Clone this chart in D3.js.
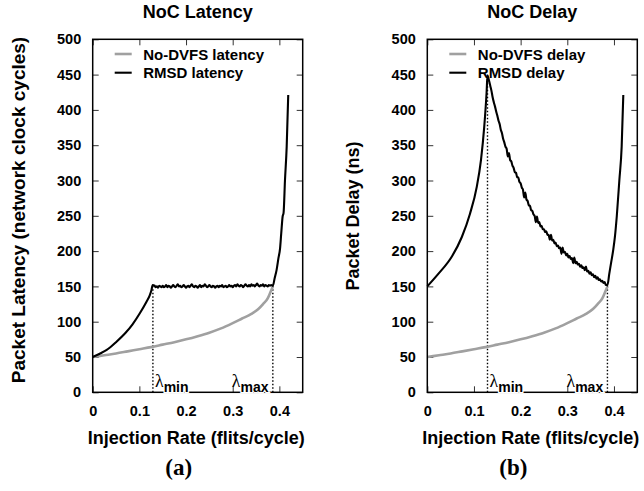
<!DOCTYPE html>
<html>
<head>
<meta charset="utf-8">
<script src="https://cdn.jsdelivr.net/npm/d3@7"></script>
<style>
  body { margin: 0; background: #fff; }
  svg { display: block; }
</style>
</head>
<body>
<div id="chart"></div>
<script>
// tick values
const rateTicks = [0, 0.1, 0.2, 0.3, 0.4];
const valueTicks = [0, 50, 100, 150, 200, 250, 300, 350, 400, 450, 500];

// injection rates marking the DVFS range
const lambdaMin = 0.129;
const lambdaMax = 0.386;

// [injection rate, latency in cycles]
const noDvfsLatency = [
  [0, 50], [0.025, 52.5], [0.05, 55], [0.075, 58], [0.1, 61], [0.125, 64], [0.15, 67.5],
  [0.175, 71], [0.2, 75], [0.225, 79.5], [0.25, 84.5], [0.275, 90.5], [0.3, 98], [0.32, 104.5],
  [0.34, 111], [0.355, 118], [0.365, 125], [0.375, 133], [0.381, 142], [0.386, 150]
];

const rmsdLatency = [
  [0, 50], [0.016, 55], [0.03, 60], [0.051, 71.7], [0.07, 84], [0.085, 96], [0.101, 112],
  [0.115, 128], [0.122, 137], [0.126, 145], [0.1285, 152],
  [0.1325, 151], [0.135, 149], [0.1375, 150], [0.14, 148], [0.1425, 151], [0.145, 150], [0.1475, 149],
  [0.15, 151], [0.1525, 149], [0.155, 150], [0.1575, 152], [0.16, 149], [0.1625, 151], [0.165, 150],
  [0.1675, 148], [0.17, 150], [0.1725, 152], [0.175, 150], [0.1775, 149], [0.18, 151], [0.1825, 153],
  [0.185, 150], [0.1875, 151], [0.19, 149], [0.1925, 150], [0.195, 152], [0.1975, 150], [0.2, 148],
  [0.2025, 150], [0.205, 151], [0.2075, 149], [0.21, 151], [0.2125, 153], [0.215, 150], [0.2175, 149],
  [0.22, 151], [0.2225, 150], [0.225, 148], [0.2275, 150], [0.23, 152], [0.2325, 149], [0.235, 151],
  [0.2375, 150], [0.24, 153], [0.2425, 151], [0.245, 149], [0.2475, 150], [0.25, 152], [0.2525, 150],
  [0.255, 149], [0.2575, 151], [0.26, 150], [0.2625, 148], [0.265, 150], [0.2675, 151], [0.27, 149],
  [0.2725, 151], [0.275, 150], [0.2775, 152], [0.28, 149], [0.2825, 150], [0.285, 151], [0.2875, 149],
  [0.29, 150], [0.2925, 152], [0.295, 150], [0.2975, 151], [0.3, 149], [0.3025, 151], [0.305, 152],
  [0.3075, 150], [0.31, 153], [0.3125, 151], [0.315, 150], [0.3175, 152], [0.32, 151], [0.3225, 149],
  [0.325, 151], [0.3275, 153], [0.33, 151], [0.3325, 150], [0.335, 152], [0.3375, 150], [0.34, 153],
  [0.3425, 151], [0.345, 152], [0.3475, 150], [0.35, 152], [0.3525, 154], [0.355, 151], [0.3575, 150],
  [0.36, 152], [0.3625, 151], [0.365, 153], [0.3675, 150], [0.37, 152], [0.3725, 151], [0.375, 150],
  [0.3775, 152], [0.38, 151], [0.3825, 152], [0.386, 151],
  [0.39, 162], [0.394, 173], [0.398, 190], [0.4015, 204], [0.404, 225], [0.407, 249], [0.409, 254],
  [0.412, 300], [0.4157, 348], [0.419, 421]
];

// [injection rate, delay in ns]
const noDvfsDelay = [
  [0, 50], [0.025, 52.5], [0.05, 55], [0.075, 58], [0.1, 61], [0.125, 64], [0.15, 67.5],
  [0.175, 71], [0.2, 75], [0.225, 79.5], [0.25, 84.5], [0.275, 90.5], [0.3, 98], [0.32, 104.5],
  [0.34, 111], [0.355, 118], [0.365, 125], [0.375, 133], [0.381, 142], [0.386, 150]
];

const rmsdDelay = [
  [0, 150], [0.024, 168], [0.052, 191.6], [0.074, 220], [0.0915, 253], [0.106, 291], [0.115, 329],
  [0.122, 376], [0.127, 424], [0.129, 449],
  [0.13, 447], [0.1325, 441], [0.135, 434], [0.1375, 427], [0.14, 418], [0.1425, 411], [0.145, 405],
  [0.1475, 398], [0.15, 392], [0.1525, 385], [0.155, 380], [0.1575, 372], [0.16, 367], [0.1625, 359],
  [0.165, 354], [0.1675, 348], [0.17, 345], [0.1725, 334], [0.175, 339], [0.1775, 329], [0.18, 327],
  [0.1825, 321], [0.185, 318], [0.1875, 312], [0.19, 311], [0.1925, 305], [0.195, 304], [0.1975, 298],
  [0.2, 296], [0.2025, 290], [0.205, 287], [0.2075, 276], [0.21, 283], [0.2125, 273], [0.215, 271],
  [0.2175, 265], [0.22, 264], [0.2225, 258], [0.225, 257], [0.2275, 252], [0.23, 250], [0.2325, 241],
  [0.235, 249], [0.2375, 240], [0.24, 241], [0.2425, 235], [0.245, 236], [0.2475, 231], [0.25, 231],
  [0.2525, 227], [0.255, 228], [0.2575, 223], [0.26, 223], [0.2625, 216], [0.265, 223], [0.2675, 215],
  [0.27, 216], [0.2725, 211], [0.275, 212], [0.2775, 207], [0.28, 208], [0.2825, 204], [0.285, 205],
  [0.2875, 196], [0.29, 205], [0.2925, 198], [0.295, 199], [0.2975, 194], [0.3, 196], [0.3025, 191],
  [0.305, 193], [0.3075, 189], [0.31, 190], [0.3125, 183], [0.315, 191], [0.3175, 183], [0.32, 185],
  [0.3225, 181], [0.325, 182], [0.3275, 178], [0.33, 180], [0.3325, 176], [0.335, 177], [0.3375, 173],
  [0.34, 178], [0.3425, 171], [0.345, 172], [0.3475, 168], [0.35, 170], [0.3525, 166], [0.355, 167],
  [0.3575, 163], [0.36, 165], [0.3625, 161], [0.365, 163], [0.3675, 159], [0.37, 160], [0.3725, 157],
  [0.375, 158], [0.3775, 155], [0.38, 156], [0.3825, 152], [0.386, 152],
  [0.39, 168], [0.394, 184], [0.3985, 202], [0.402, 220], [0.406, 249], [0.4115, 300], [0.4165, 348],
  [0.42, 421]
];

const width = 644;
const height = 491;
const plotTop = 39.3;
const plotBottom = 392.3;
const plotWidth = 210;
const sans = "'Liberation Sans', Arial, Helvetica, sans-serif";

const svg = d3.select('#chart')
  .append('svg')
  .attr('width', width)
  .attr('height', height);

function drawPanel(p) {
  const g = svg.append('g');
  const x = d3.scaleLinear().domain([0, 0.45]).range([p.left, p.left + plotWidth]);
  const y = d3.scaleLinear().domain([0, 500]).range([plotBottom, plotTop]);

  const fmt = d => (d === 0 ? '0' : d3.format('.1f')(d));

  const bottomAxis = g.append('g')
    .attr('transform', `translate(0,${plotBottom})`)
    .call(d3.axisBottom(x).tickValues(rateTicks).tickFormat(fmt)
      .tickSizeInner(-6).tickSizeOuter(0).tickPadding(13));
  const leftAxis = g.append('g')
    .attr('transform', `translate(${p.left},0)`)
    .call(d3.axisLeft(y).tickValues(valueTicks)
      .tickSizeInner(-6).tickSizeOuter(0).tickPadding(11.5));
  const topAxis = g.append('g')
    .attr('transform', `translate(0,${plotTop})`)
    .call(d3.axisTop(x).tickValues(rateTicks).tickFormat(() => '')
      .tickSizeInner(-6).tickSizeOuter(0));
  const rightAxis = g.append('g')
    .attr('transform', `translate(${p.left + plotWidth},0)`)
    .call(d3.axisRight(y).tickValues(valueTicks).tickFormat(() => '')
      .tickSizeInner(-6).tickSizeOuter(0));

  [bottomAxis, leftAxis, topAxis, rightAxis].forEach(a => {
    a.select('.domain').remove();
    a.selectAll('.tick line').attr('stroke', '#333').attr('stroke-width', 1);
    a.selectAll('.tick text')
      .attr('fill', '#000')
      .style('font-family', sans)
      .style('font-weight', 'bold')
      .style('font-size', '14.5px');
  });

  // dotted markers at lambda min / max
  g.selectAll('.marker')
    .data([[lambdaMin, p.minTop], [lambdaMax, p.maxTop]])
    .enter()
    .append('line')
    .attr('x1', d => x(d[0]))
    .attr('x2', d => x(d[0]))
    .attr('y1', y(0))
    .attr('y2', d => y(d[1]))
    .attr('stroke', '#000')
    .attr('stroke-width', 1.4)
    .attr('stroke-dasharray', '1.5,2');

  const line = d3.line()
    .x(d => x(d[0]))
    .y(d => y(d[1]))
    .curve(d3.curveMonotoneX);

  g.append('path')
    .datum(p.base)
    .attr('d', line)
    .attr('fill', 'none')
    .attr('stroke', '#a0a0a0')
    .attr('stroke-width', 2.6);

  g.append('path')
    .datum(p.rmsd)
    .attr('d', line)
    .attr('fill', 'none')
    .attr('stroke', '#000')
    .attr('stroke-width', 2.1)
    .attr('stroke-linejoin', 'round');

  // frame
  g.append('rect')
    .attr('x', p.left)
    .attr('y', plotTop)
    .attr('width', plotWidth)
    .attr('height', plotBottom - plotTop)
    .attr('fill', 'none')
    .attr('stroke', '#000')
    .attr('stroke-width', 1.5);

  // lambda labels
  const lamMin = g.append('text')
    .attr('x', x(lambdaMin) + 2)
    .attr('y', plotBottom - 5.5);
  lamMin.append('tspan')
    .style('font-family', "'Liberation Serif', 'Times New Roman', serif")
    .style('font-size', '18px')
    .text('λ');
  lamMin.append('tspan')
    .attr('dy', 5.3)
    .style('font-family', sans)
    .style('font-weight', 'bold')
    .style('font-size', '14px')
    .attr('stroke', '#fff').attr('stroke-width', 2.5).attr('paint-order', 'stroke')
    .text('min');

  const lamMax = g.append('text')
    .attr('x', x(lambdaMax) - 41)
    .attr('y', plotBottom - 5.5);
  lamMax.append('tspan')
    .style('font-family', "'Liberation Serif', 'Times New Roman', serif")
    .style('font-size', '18px')
    .text('λ');
  lamMax.append('tspan')
    .attr('dy', 5.3)
    .style('font-family', sans)
    .style('font-weight', 'bold')
    .style('font-size', '14px')
    .attr('stroke', '#fff').attr('stroke-width', 2.5).attr('paint-order', 'stroke')
    .text('max');

  // legend
  const legend = g.append('g');
  p.legend.forEach((item, i) => {
    const ly = 54 + i * 18.7;
    legend.append('line')
      .attr('x1', p.left + 22)
      .attr('x2', p.left + 39)
      .attr('y1', ly)
      .attr('y2', ly)
      .attr('stroke', item.color)
      .attr('stroke-width', item.width);
    legend.append('text')
      .attr('x', p.left + 50.5)
      .attr('y', ly + 5.6)
      .style('font-family', sans)
      .style('font-weight', 'bold')
      .style('font-size', '15px')
      .text(item.label);
  });

  // title
  g.append('text')
    .attr('x', p.left + plotWidth / 2)
    .attr('y', 18.3)
    .attr('text-anchor', 'middle')
    .style('font-family', sans)
    .style('font-weight', 'bold')
    .style('font-size', '18px')
    .text(p.title);

  // x label
  g.append('text')
    .attr('x', p.left + plotWidth / 2 - 1.5)
    .attr('y', 444.3)
    .attr('text-anchor', 'middle')
    .style('font-family', sans)
    .style('font-weight', 'bold')
    .style('font-size', '18px')
    .text('Injection Rate (flits/cycle)');

  // y label
  g.append('text')
    .attr('transform', `translate(${p.yLabelX},${p.yLabelY}) rotate(-90)`)
    .attr('text-anchor', 'middle')
    .style('font-family', sans)
    .style('font-weight', 'bold')
    .style('font-size', p.yLabelSize)
    .text(p.yLabel);

  // panel caption
  g.append('text')
    .attr('x', p.left + plotWidth / 2 - 19)
    .attr('y', 475)
    .attr('text-anchor', 'middle')
    .style('font-family', "'Liberation Serif', 'Times New Roman', serif")
    .style('font-weight', 'bold')
    .style('font-size', '23px')
    .text(p.caption);
}

drawPanel({
  left: 92.7,
  title: 'NoC Latency',
  yLabel: 'Packet Latency (network clock cycles)',
  yLabelX: 25,
  yLabelY: 210,
  yLabelSize: '19px',
  caption: '(a)',
  base: noDvfsLatency,
  rmsd: rmsdLatency,
  minTop: 152,
  maxTop: 151,
  legend: [
    { label: 'No-DVFS latency', color: '#a0a0a0', width: 2.6 },
    { label: 'RMSD latency', color: '#000', width: 2.1 }
  ]
});

drawPanel({
  left: 427.3,
  title: 'NoC Delay',
  yLabel: 'Packet Delay (ns)',
  yLabelX: 358.7,
  yLabelY: 216,
  yLabelSize: '18px',
  caption: '(b)',
  base: noDvfsDelay,
  rmsd: rmsdDelay,
  minTop: 449,
  maxTop: 152,
  legend: [
    { label: 'No-DVFS delay', color: '#a0a0a0', width: 2.6 },
    { label: 'RMSD delay', color: '#000', width: 2.1 }
  ]
});
</script>
</body>
</html>
